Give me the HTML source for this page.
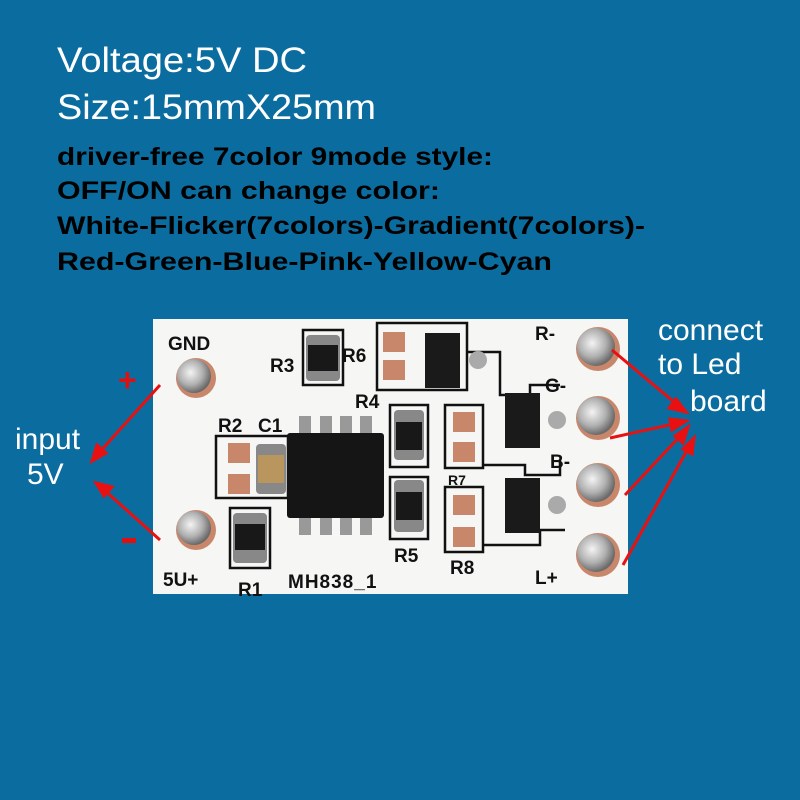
<!DOCTYPE html>
<html><head><meta charset="utf-8"><style>
html,body{margin:0;padding:0;background:#0b6d9f;}
svg{display:block}
</style></head><body>
<svg width="800" height="800" viewBox="0 0 800 800" xmlns="http://www.w3.org/2000/svg">
<defs>
<radialGradient id="pad" cx="0.4" cy="0.4" r="0.6">
<stop offset="0" stop-color="#f4f4f4"/><stop offset="0.6" stop-color="#b0b0b0"/><stop offset="1" stop-color="#6a6a6a"/>
</radialGradient>
</defs>
<rect width="800" height="800" fill="#0b6d9f"/>
<g font-family="Liberation Sans, sans-serif" fill="#fff" lengthAdjust="spacingAndGlyphs">
<text x="57" y="72" font-size="35" textLength="250" lengthAdjust="spacingAndGlyphs">Voltage:5V DC</text>
<text x="57" y="119" font-size="35" textLength="319" lengthAdjust="spacingAndGlyphs">Size:15mmX25mm</text>
</g>
<g font-family="Liberation Sans, sans-serif" font-weight="bold" fill="#000" font-size="25">
<text x="57" y="165" textLength="436" lengthAdjust="spacingAndGlyphs">driver-free 7color 9mode style:</text>
<text x="57" y="199" textLength="383" lengthAdjust="spacingAndGlyphs">OFF/ON can change color:</text>
<text x="57" y="234" textLength="588" lengthAdjust="spacingAndGlyphs">White-Flicker(7colors)-Gradient(7colors)-</text>
<text x="57" y="270" textLength="495" lengthAdjust="spacingAndGlyphs">Red-Green-Blue-Pink-Yellow-Cyan</text>
</g>
<!-- board -->
<rect x="153" y="319" width="475" height="275" fill="#f6f6f4"/>
<g fill="none" stroke="#111" stroke-width="2.5">
<rect x="303" y="330" width="40" height="55"/>
<rect x="377" y="323" width="90" height="67"/>
<rect x="390" y="405" width="38" height="62"/>
<rect x="390" y="477" width="38" height="62"/>
<rect x="445" y="405" width="38" height="63"/>
<rect x="445" y="487" width="38" height="65"/>
<rect x="216" y="436" width="72" height="62"/>
<rect x="230" y="508" width="40" height="60"/>
<polyline points="467,352 500,352 500,395 530,395 530,385 560,385"/>
<polyline points="483,465 525,465 525,475 560,475 560,460"/>
<polyline points="483,545 540,545 540,530 565,530"/>
</g>
<g fill="#c8866b">
<circle cx="196" cy="378" r="20"/><circle cx="196" cy="530" r="20"/>
<circle cx="598" cy="349" r="22"/><circle cx="598" cy="418" r="22"/>
<circle cx="598" cy="485" r="22"/><circle cx="598" cy="555" r="22"/>
<rect x="383" y="332" width="22" height="20"/><rect x="383" y="360" width="22" height="20"/>
<rect x="453" y="412" width="22" height="20"/><rect x="453" y="442" width="22" height="20"/>
<rect x="453" y="495" width="22" height="20"/><rect x="453" y="527" width="22" height="20"/>
<rect x="228" y="443" width="22" height="20"/><rect x="228" y="474" width="22" height="20"/>
</g>
<g fill="url(#pad)">
<circle cx="194" cy="376" r="17"/><circle cx="194" cy="528" r="17"/>
<circle cx="596" cy="347" r="19"/><circle cx="596" cy="416" r="19"/>
<circle cx="596" cy="483" r="19"/><circle cx="596" cy="553" r="19"/>
</g>
<g fill="#999"><rect x="299" y="416" width="12" height="20"/><rect x="320" y="416" width="12" height="20"/><rect x="340" y="416" width="12" height="20"/><rect x="360" y="416" width="12" height="20"/>
<rect x="299" y="515" width="12" height="20"/><rect x="320" y="515" width="12" height="20"/><rect x="340" y="515" width="12" height="20"/><rect x="360" y="515" width="12" height="20"/></g>
<rect x="287" y="433" width="97" height="85" rx="3" fill="#151515"/>
<g fill="#1a1a1a"><rect x="425" y="333" width="35" height="55"/><rect x="505" y="393" width="35" height="55"/><rect x="505" y="478" width="35" height="55"/></g>
<g fill="#aaa"><circle cx="478" cy="360" r="9"/><circle cx="557" cy="420" r="9"/><circle cx="557" cy="505" r="9"/></g>
<g fill="#888"><rect x="306" y="335" width="34" height="46" rx="4"/><rect x="394" y="410" width="30" height="50" rx="4"/><rect x="394" y="480" width="30" height="52" rx="4"/><rect x="233" y="513" width="34" height="50" rx="4"/><rect x="256" y="444" width="30" height="50" rx="4"/></g>
<g fill="#181818"><rect x="308" y="345" width="30" height="26"/><rect x="396" y="422" width="26" height="28"/><rect x="396" y="492" width="26" height="28"/><rect x="235" y="524" width="30" height="26"/></g>
<rect x="258" y="455" width="26" height="28" fill="#b8965e"/>
<g font-family="Liberation Sans, sans-serif" font-weight="bold" fill="#111" font-size="19">
<text x="168" y="350">GND</text><text x="270" y="372">R3</text><text x="342" y="362">R6</text>
<text x="355" y="408">R4</text><text x="218" y="432">R2</text><text x="258" y="432">C1</text>
<text x="163" y="586">5U+</text><text x="238" y="596">R1</text><text x="288" y="588" letter-spacing="1">MH838_1</text>
<text x="394" y="562">R5</text><text x="450" y="574">R8</text><text x="448" y="485" font-size="14">R7</text>
<text x="535" y="340">R-</text><text x="545" y="392">G-</text><text x="550" y="468">B-</text><text x="535" y="584">L+</text>
</g>
<g font-family="Liberation Sans, sans-serif" fill="#fff" font-size="30">
<text x="15" y="449">input</text><text x="27" y="484">5V</text>
<text x="658" y="340">connect</text><text x="658" y="374">to Led</text><text x="690" y="411">board</text>
</g>
<g font-family="Liberation Sans, sans-serif" font-weight="bold" fill="#e01010" font-size="32">
<text x="118" y="391">+</text>
</g>
<rect x="122" y="538" width="14" height="5" fill="#e01010"/>
<g stroke="#e81010" stroke-width="3" fill="#e81010">
<line x1="160" y1="385" x2="97" y2="455"/><polygon points="92,461 97,445 106,453"/>
<line x1="160" y1="540" x2="102" y2="488"/><polygon points="96,483 112,487 104,496"/>
<line x1="612" y1="350" x2="680" y2="407"/><polygon points="686,412 669,408 676,399"/>
<line x1="610" y1="438" x2="678" y2="423"/><polygon points="686,421 672,430 670,419"/>
<line x1="625" y1="495" x2="683" y2="433"/><polygon points="688,427 683,443 675,436"/>
<line x1="623" y1="565" x2="690" y2="445"/><polygon points="694,438 692,454 683,449"/>
</g>
</svg>
</body></html>
